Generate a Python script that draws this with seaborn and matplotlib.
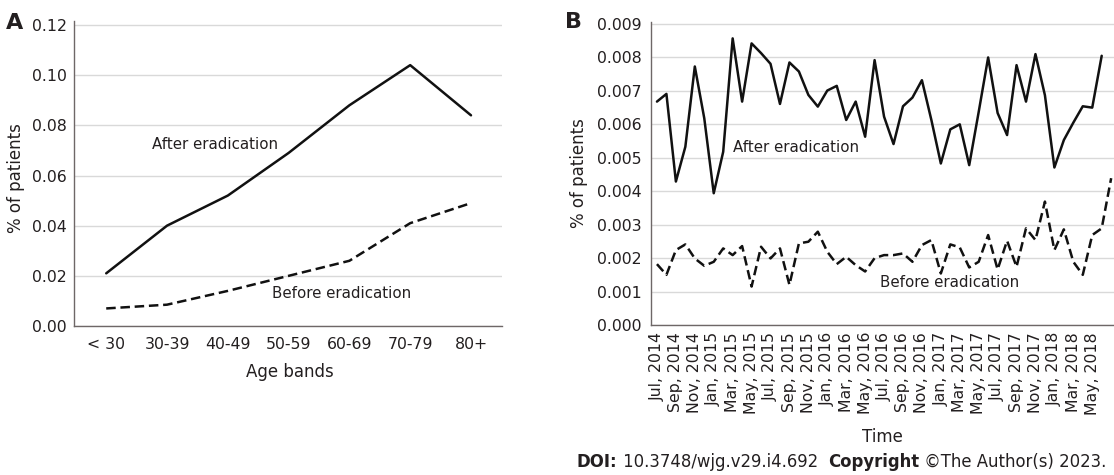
import matplotlib
matplotlib.use("Agg")
import matplotlib.pyplot as plt
import seaborn as sns

# ---------------- data ----------------
age_bands = ["< 30", "30-39", "40-49", "50-59", "60-69", "70-79", "80+"]
age_after = [0.021, 0.040, 0.052, 0.069, 0.088, 0.104, 0.084]
age_before = [0.007, 0.0085, 0.014, 0.020, 0.026, 0.041, 0.049]

months = [
    "Jul, 2014", "Aug, 2014", "Sep, 2014", "Oct, 2014", "Nov, 2014", "Dec, 2014",
    "Jan, 2015", "Feb, 2015", "Mar, 2015", "Apr, 2015", "May, 2015", "Jun, 2015",
    "Jul, 2015", "Aug, 2015", "Sep, 2015", "Oct, 2015", "Nov, 2015", "Dec, 2015",
    "Jan, 2016", "Feb, 2016", "Mar, 2016", "Apr, 2016", "May, 2016", "Jun, 2016",
    "Jul, 2016", "Aug, 2016", "Sep, 2016", "Oct, 2016", "Nov, 2016", "Dec, 2016",
    "Jan, 2017", "Feb, 2017", "Mar, 2017", "Apr, 2017", "May, 2017", "Jun, 2017",
    "Jul, 2017", "Aug, 2017", "Sep, 2017", "Oct, 2017", "Nov, 2017", "Dec, 2017",
    "Jan, 2018", "Feb, 2018", "Mar, 2018", "Apr, 2018", "May, 2018", "Jun, 2018",
    "Jul, 2018",
]
month_ticks = months[0:48:2]

time_after = [
    0.00668, 0.00691, 0.00429, 0.00533, 0.00773, 0.00618, 0.00394, 0.00518,
    0.00857, 0.00668, 0.00842, 0.00813, 0.00781, 0.00661, 0.00785, 0.00758,
    0.00688, 0.00653, 0.00701, 0.00715, 0.00613, 0.00668, 0.00563, 0.00792,
    0.00623, 0.00541, 0.00654, 0.00680, 0.00732, 0.00613, 0.00483, 0.00585,
    0.00600, 0.00478, 0.00637, 0.00800, 0.00634, 0.00568, 0.00777, 0.00668,
    0.00810, 0.00687, 0.00471, 0.00553, 0.00605, 0.00654, 0.00650, 0.00805,
]
time_before = [
    0.00182, 0.00150, 0.00224, 0.00241, 0.00199, 0.00177, 0.00189, 0.00229,
    0.00209, 0.00236, 0.00115, 0.00234, 0.00199, 0.00229, 0.00120, 0.00244,
    0.00249, 0.00279, 0.00219, 0.00182, 0.00204, 0.00179, 0.00160, 0.00200,
    0.00209, 0.00209, 0.00214, 0.00189, 0.00239, 0.00254, 0.00154, 0.00241,
    0.00232, 0.00172, 0.00189, 0.00269, 0.00166, 0.00252, 0.00174, 0.00289,
    0.00254, 0.00369, 0.00224, 0.00286, 0.00189, 0.00150, 0.00269, 0.00289,
    0.00439,
]

age_yticks = [0.00, 0.02, 0.04, 0.06, 0.08, 0.10, 0.12]
age_yticklabels = ["0.00", "0.02", "0.04", "0.06", "0.08", "0.10", "0.12"]
time_yticks = [0.000, 0.001, 0.002, 0.003, 0.004, 0.005, 0.006, 0.007, 0.008, 0.009]
time_yticklabels = ["0.000", "0.001", "0.002", "0.003", "0.004", "0.005",
                    "0.006", "0.007", "0.008", "0.009"]

# ---------------- style ----------------
sns.set_style("white")
plt.rcParams["font.family"] = ["DejaVu Sans"]
TXT = "#231f20"
LINE = "#111111"
SPINE = "#6e6767"
GRID = "#d9d9d9"
FS = 11.3
LFS = 12
AFS = 10.8

W, H = 1114, 475
fig = plt.figure(figsize=(W / 100, H / 100), dpi=100)

def frac_rect(l, t, r, b):
    return [l / W, 1 - b / H, (r - l) / W, (b - t) / H]

axA = fig.add_axes(frac_rect(74, 21, 502, 326))
axB = fig.add_axes(frac_rect(651, 22, 1114, 325))

# ---------------- panel A ----------------
sns.lineplot(x=age_bands, y=age_after, ax=axA, color=LINE, linewidth=1.8, sort=False)
sns.lineplot(x=age_bands, y=age_before, ax=axA, color=LINE, linewidth=1.8,
             sort=False, linestyle=(0, (3.8, 1.9)))
axA.set_xlim(-0.53, 6.51)
axA.set_ylim(0, 0.1216)
axA.set_yticks(age_yticks)
axA.set_yticklabels(age_yticklabels)
axA.text(0.76, 0.0722, "After eradication", fontsize=AFS, color=TXT, va="center", ha="left")
axA.text(2.73, 0.0128, "Before eradication", fontsize=AFS, color=TXT, va="center", ha="left")
axA.set_xlabel("Age bands", fontsize=LFS, color=TXT)
axA.set_ylabel("% of patients", fontsize=LFS, color=TXT)
axA.xaxis.set_label_coords(0.505, -0.121)
axA.yaxis.set_label_coords(-0.114, 0.485)
axA.tick_params(axis="x", length=0, pad=8, labelsize=FS, colors=TXT)
axA.tick_params(axis="y", length=0, pad=5, labelsize=FS, colors=TXT)

# ---------------- panel B ----------------
sns.lineplot(x=months[:48], y=time_after, ax=axB, color=LINE, linewidth=1.8, sort=False)
sns.lineplot(x=months, y=time_before, ax=axB, color=LINE, linewidth=1.8,
             sort=False, linestyle=(0, (3.8, 1.9)))
axB.set_xlim(-0.63, 48.3)
axB.set_ylim(0, 0.00906)
axB.set_xticks(range(0, 48, 2))
axB.set_xticklabels(month_ticks, rotation=90)
axB.set_yticks(time_yticks)
axB.set_yticklabels(time_yticklabels)
axB.text(8.0, 0.0053, "After eradication", fontsize=AFS, color=TXT, va="center", ha="left")
axB.text(23.6, 0.00126, "Before eradication", fontsize=AFS, color=TXT, va="center", ha="left")
axB.set_xlabel("Time", fontsize=LFS, color=TXT)
axB.set_ylabel("% of patients", fontsize=LFS, color=TXT)
axB.xaxis.set_label_coords(0.5, -0.34)
axB.yaxis.set_label_coords(-0.136, 0.5)
axB.tick_params(axis="x", length=0, pad=5, labelsize=FS, colors=TXT)
axB.tick_params(axis="y", length=0, pad=7, labelsize=FS, colors=TXT)

for ax in (axA, axB):
    ax.set_facecolor("white")
    ax.grid(axis="y", color=GRID, linewidth=1.0)
    ax.grid(axis="x", visible=False)
    ax.set_axisbelow(True)
    for s in ("top", "right"):
        ax.spines[s].set_visible(False)
    for s in ("left", "bottom"):
        ax.spines[s].set_color(SPINE)
        ax.spines[s].set_linewidth(1.0)

# panel letters
fig.text(6 / W, 1 - 29 / H, "A", fontsize=16, fontweight="bold", color=TXT)
fig.text(565 / W, 1 - 28 / H, "B", fontsize=16, fontweight="bold", color=TXT)

# footer
fig.canvas.draw()
r = fig.canvas.get_renderer()
x = 577
for s, w in [("DOI:", "bold"), (" 10.3748/wjg.v29.i4.692  ", "normal"),
             ("Copyright", "bold"), (" \u00a9The Author(s) 2023.", "normal")]:
    t = fig.text(x / W, 1 - 467 / H, s, fontsize=11.9, fontweight=w, color=TXT)
    bb = t.get_window_extent(r)
    x = bb.x1

fig.savefig("out.png", dpi=100, facecolor="white")
